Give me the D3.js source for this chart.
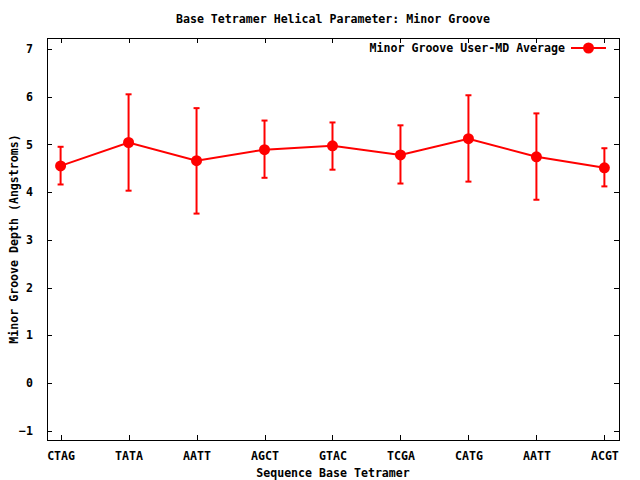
<!DOCTYPE html>
<html>
<head>
<meta charset="utf-8">
<script src="https://cdn.jsdelivr.net/npm/d3@7"></script>
<style>
html,body{margin:0;padding:0;background:#fff;}
svg text{font-family:"DejaVu Sans Mono","Liberation Mono",monospace;font-weight:bold;font-size:11.6px;fill:#000;}
</style>
</head>
<body>
<svg id="chart" width="640" height="480"></svg>
<script>
const categories = ["CTAG","TATA","AATT","AGCT","GTAC","TCGA","CATG","AATT","ACGT"];
const meanValues = [4.55, 5.04, 4.66, 4.89, 4.97, 4.78, 5.12, 4.74, 4.51];
const lowValues  = [4.16, 4.03, 3.55, 4.30, 4.47, 4.18, 4.22, 3.84, 4.12];
const highValues = [4.95, 6.05, 5.76, 5.50, 5.46, 5.40, 6.03, 5.65, 4.92];
const yTicks = [-1,0,1,2,3,4,5,6,7];
const seriesName = "Minor Groove User-MD Average";

const svg = d3.select("#chart");
const L = 47, R = 619, T = 38, B = 440;
const red = "#ff0000";

const x = d3.scaleLinear().domain([-0.2, 8.215]).range([L, R]);
const y = d3.scaleLinear().domain([-1.195, 7.23]).range([B, T]);

const data = categories.map((c,i)=>({c, i, m: meanValues[i], lo: lowValues[i], hi: highValues[i]}));

// axes with inward ticks
const tickLen = 5;
svg.append("g").attr("transform",`translate(0,${B})`)
  .call(d3.axisBottom(x).tickValues(d3.range(categories.length)).tickSize(-tickLen).tickPadding(12).tickFormat(i=>categories[i]))
  .call(g=>{g.select(".domain").remove(); g.selectAll("text").attr("dy","0.71em").attr("y",12);});
svg.append("g").attr("transform",`translate(0,${T})`)
  .call(d3.axisTop(x).tickValues(d3.range(categories.length)).tickSize(-tickLen).tickFormat(""))
  .call(g=>g.select(".domain").remove());
svg.append("g").attr("transform",`translate(${L},0)`)
  .call(d3.axisLeft(y).tickValues(yTicks).tickSize(-tickLen).tickPadding(14).tickFormat(d3.format("d")))
  .call(g=>g.select(".domain").remove());
svg.append("g").attr("transform",`translate(${R},0)`)
  .call(d3.axisRight(y).tickValues(yTicks).tickSize(-tickLen).tickFormat(""))
  .call(g=>g.select(".domain").remove());
svg.selectAll(".tick line").attr("stroke","#000").attr("shape-rendering","crispEdges");
svg.selectAll(".tick text").style("font-family",'"DejaVu Sans Mono",monospace').style("font-weight","bold").style("font-size","11.6px");

// border
svg.append("rect").attr("x",L).attr("y",T).attr("width",R-L).attr("height",B-T)
  .attr("fill","none").attr("stroke","#000").attr("stroke-width",1).attr("shape-rendering","crispEdges");

// line
svg.append("path").datum(data)
  .attr("d", d3.line().x(d=>x(d.i)).y(d=>y(d.m)))
  .attr("fill","none").attr("stroke",red).attr("stroke-width",2);

// error bars
const eb = svg.append("g");
data.forEach(d=>{
  eb.append("line").attr("x1",x(d.i)).attr("x2",x(d.i)).attr("y1",y(d.lo)).attr("y2",y(d.hi)).attr("stroke",red).attr("stroke-width",2);
  [d.lo,d.hi].forEach(v=>{
    eb.append("line").attr("x1",x(d.i)-3).attr("x2",x(d.i)+3).attr("y1",y(v)).attr("y2",y(v)).attr("stroke",red).attr("stroke-width",2);
  });
});

// points
svg.append("g").selectAll("circle").data(data).join("circle")
  .attr("cx",d=>x(d.i)).attr("cy",d=>y(d.m)).attr("r",5.5).attr("fill",red);

// legend
const ly = 48;
svg.append("text").attr("x",565).attr("y",ly).attr("dy","0.35em").attr("text-anchor","end").text(seriesName);
svg.append("line").attr("x1",571).attr("x2",606).attr("y1",ly).attr("y2",ly).attr("stroke",red).attr("stroke-width",2);
svg.append("circle").attr("cx",588.5).attr("cy",ly).attr("r",5.5).attr("fill",red);

// titles
svg.append("text").attr("x",(L+R)/2).attr("y",19).attr("dy","0.35em").attr("text-anchor","middle").text("Base Tetramer Helical Parameter: Minor Groove");
svg.append("text").attr("x",(L+R)/2).attr("y",473).attr("dy","0.35em").attr("text-anchor","middle").text("Sequence Base Tetramer");
svg.append("text").attr("transform",`translate(14,${(T+B)/2}) rotate(-90)`).attr("dy","0.35em").attr("text-anchor","middle").text("Minor Groove Depth (Angstroms)");
</script>
</body>
</html>
